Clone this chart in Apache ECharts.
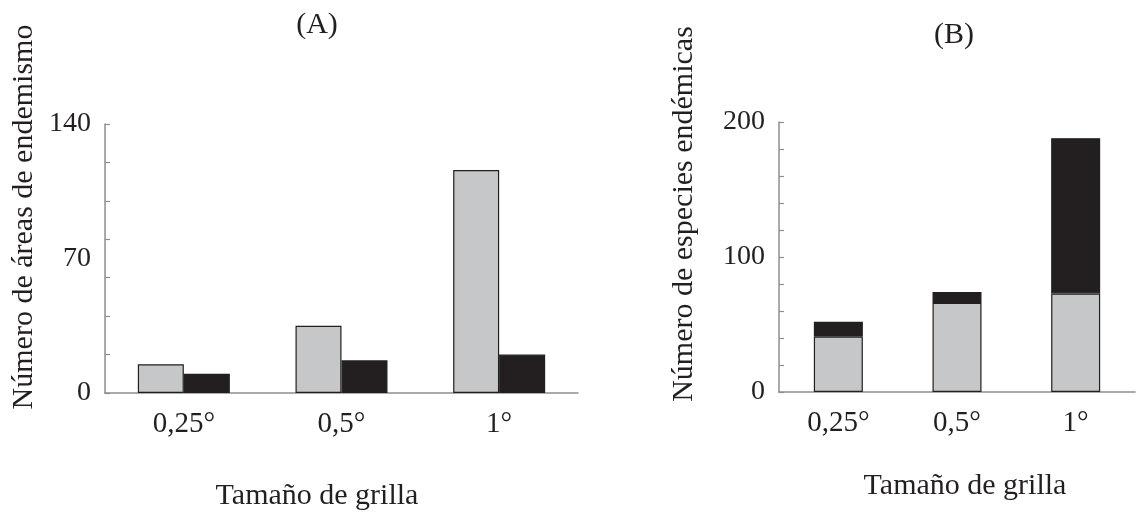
<!DOCTYPE html>
<html>
<head>
<meta charset="utf-8">
<script src="https://cdn.jsdelivr.net/npm/echarts@6/dist/echarts.min.js"></script>
<style>
html,body{margin:0;padding:0;background:#fff;}
#chart{width:1136px;height:513px;}
</style>
</head>
<body>
<div id="chart"></div>
<script>
const categories = ['0,25°', '0,5°', '1°'];
const areasGray = [15, 35, 116];
const areasBlack = [10, 17, 20];
const speciesGray = [41, 66, 73];
const speciesBlack = [11, 8, 115];
const yTicksA = [0, 70, 140];
const yTicksB = [0, 100, 200];
const panelTitles = ['(A)', '(B)'];
const yTitles = ['Número de áreas de endemismo', 'Número de especies endémicas'];
const xTitle = 'Tamaño de grilla';

const FONT = 'Liberation Serif';
const TXT = '#231f20';
const GRAY = '#c6c7c9';
const BLACK = '#231f20';
const AXIS = '#8e8e8e';

const chart = echarts.init(document.getElementById('chart'), null, {renderer: 'canvas'});

function tickAxis(grid, max, step) {
  return {
    type: 'value', gridIndex: grid, position: 'left', min: 0, max: max, interval: step,
    axisLine: {show: true, lineStyle: {color: AXIS, width: 1.5}},
    axisTick: {show: true, inside: true, length: 5, lineStyle: {color: AXIS, width: 1.2}},
    axisLabel: {show: false},
    splitLine: {show: false}
  };
}
function labelAxis(grid, ticks) {
  return {
    type: 'value', gridIndex: grid, position: 'left', offset: 0,
    min: ticks[0], max: ticks[ticks.length - 1],
    interval: ticks[1] - ticks[0],
    axisLine: {show: false}, axisTick: {show: false}, splitLine: {show: false},
    axisLabel: {show: true, margin: 14, color: TXT, fontFamily: FONT, fontSize: 28}
  };
}
function catAxis(grid) {
  return {
    type: 'category', gridIndex: grid, data: categories,
    axisLine: {show: true, lineStyle: {color: AXIS, width: 1.5}},
    axisTick: {show: false},
    axisLabel: {margin: 17, color: TXT, fontFamily: FONT, fontSize: 29}
  };
}
const barStyle = c => ({color: c, borderColor: '#231f20', borderWidth: 1.2});

chart.setOption({
  animation: false,
  backgroundColor: '#fff',
  grid: [
    {left: 105, top: 124, width: 473, height: 269},
    {left: 779, top: 122, width: 356, height: 270}
  ],
  xAxis: [catAxis(0), catAxis(1)],
  yAxis: [
    tickAxis(0, yTicksA[yTicksA.length - 1], 20),
    labelAxis(0, yTicksA),
    tickAxis(1, yTicksB[yTicksB.length - 1], 20),
    labelAxis(1, yTicksB)
  ],
  series: [
    {type: 'bar', xAxisIndex: 0, yAxisIndex: 0, data: areasGray, barGap: '0%', barWidth: 46, itemStyle: barStyle(GRAY)},
    {type: 'bar', xAxisIndex: 0, yAxisIndex: 0, data: areasBlack, barGap: '0%', barWidth: 46, itemStyle: barStyle(BLACK)},
    {type: 'bar', xAxisIndex: 1, yAxisIndex: 2, data: speciesGray, stack: 'b', barWidth: 49, itemStyle: barStyle(GRAY)},
    {type: 'bar', xAxisIndex: 1, yAxisIndex: 2, data: speciesBlack, stack: 'b', barWidth: 49, itemStyle: barStyle(BLACK)}
  ],
  graphic: [
    {type: 'text', x: 317, y: 25, style: {text: panelTitles[0], font: '30px "' + FONT + '"', fill: TXT, textAlign: 'center', textVerticalAlign: 'middle'}},
    {type: 'text', x: 954, y: 35, style: {text: panelTitles[1], font: '30px "' + FONT + '"', fill: TXT, textAlign: 'center', textVerticalAlign: 'middle'}},
    {type: 'text', x: 24, y: 217, rotation: Math.PI / 2, style: {text: yTitles[0], font: '30px "' + FONT + '"', fill: TXT, textAlign: 'center', textVerticalAlign: 'middle'}},
    {type: 'text', x: 684, y: 214, rotation: Math.PI / 2, style: {text: yTitles[1], font: '30px "' + FONT + '"', fill: TXT, textAlign: 'center', textVerticalAlign: 'middle'}},
    {type: 'text', x: 317, y: 496, style: {text: xTitle, font: '30px "' + FONT + '"', fill: TXT, textAlign: 'center', textVerticalAlign: 'middle'}},
    {type: 'text', x: 965, y: 486, style: {text: xTitle, font: '30px "' + FONT + '"', fill: TXT, textAlign: 'center', textVerticalAlign: 'middle'}}
  ]
});
</script>
</body>
</html>
